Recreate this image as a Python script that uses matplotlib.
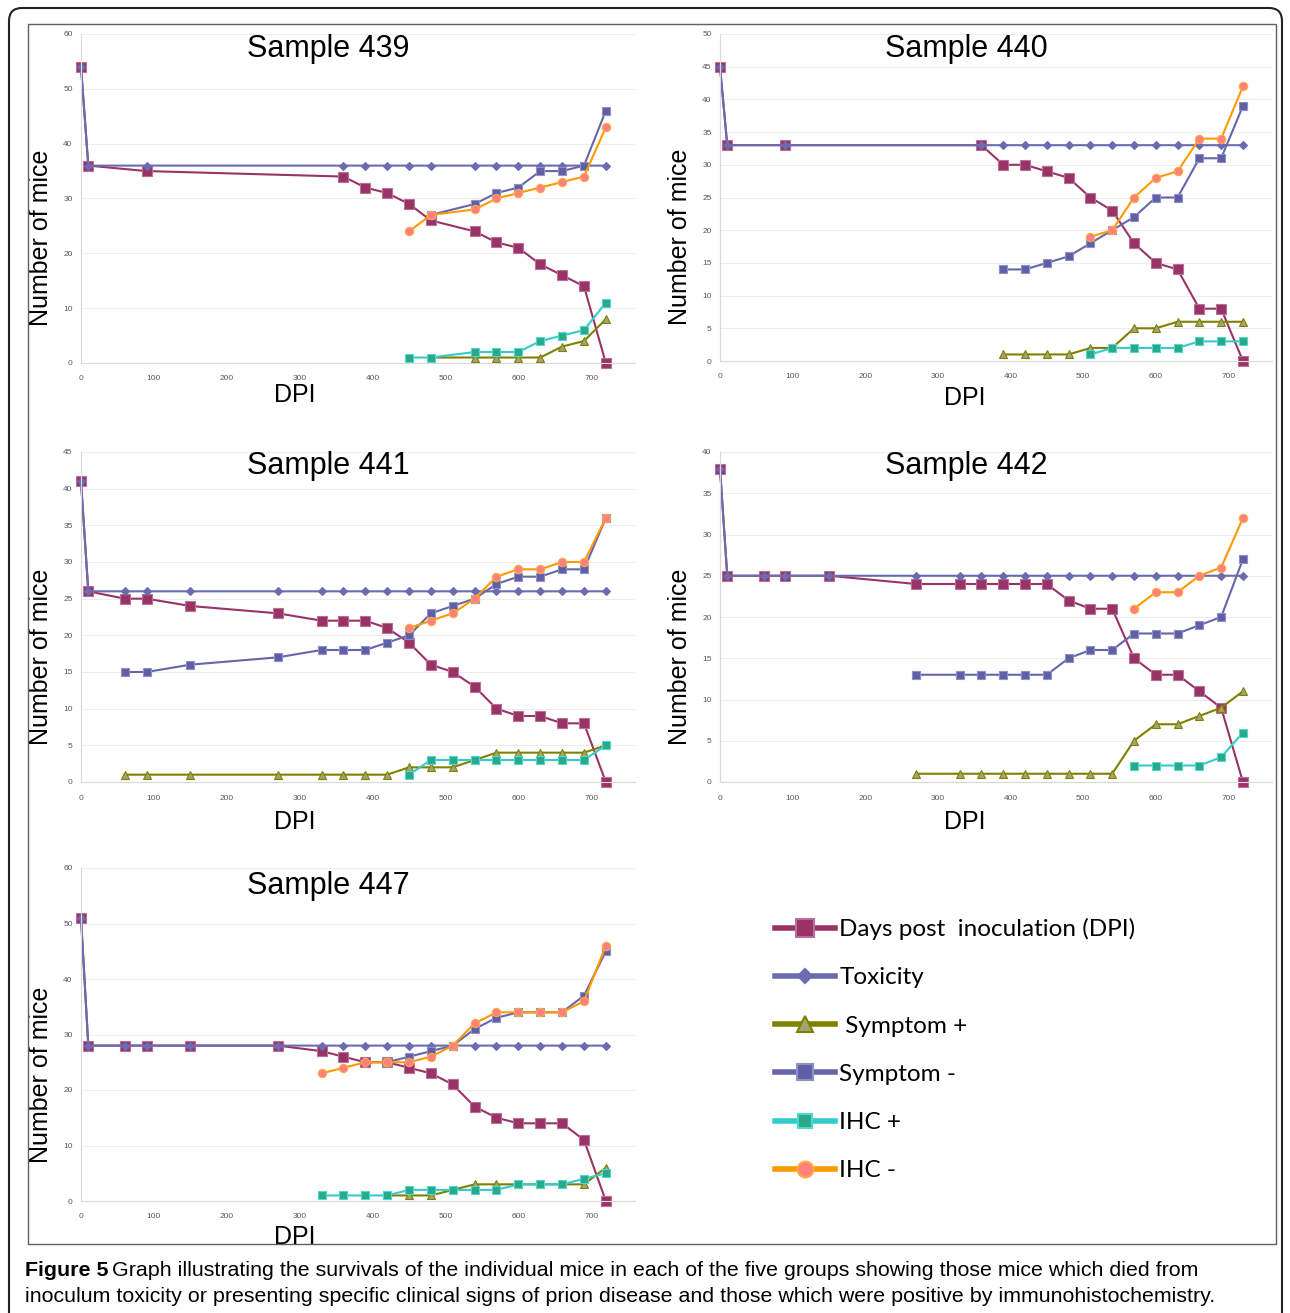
import numpy as np
import matplotlib
matplotlib.use('Agg')
import matplotlib.pyplot as plt
from matplotlib import font_manager as fm
from matplotlib.lines import Line2D
from matplotlib.patches import Rectangle, FancyBboxPatch

N = None
W, H = 1290, 1313

# day grid shared by all samples
days = [0, 10, 60, 90, 150, 270, 330, 360, 390, 420, 450, 480, 510, 540, 570, 600, 630, 660, 690, 720]

samples = ['439', '440', '441', '442', '447']
ymax = [60, 50, 45, 40, 60]
ystep = [10, 5, 5, 5, 10]

# Sample 439
dpi_439 = [54, 36, N, 35, N, N, N, 34, 32, 31, 29, 26, N, 24, 22, 21, 18, 16, 14, 0]
tox_439 = [54, 36, N, 36, N, N, N, 36, 36, 36, 36, 36, N, 36, 36, 36, 36, 36, 36, 36]
sp_439 = [N, N, N, N, N, N, N, N, N, N, N, 1, N, 1, 1, 1, 1, 3, 4, 8]
sm_439 = [N, N, N, N, N, N, N, N, N, N, N, 27, N, 29, 31, 32, 35, 35, 36, 46]
ip_439 = [N, N, N, N, N, N, N, N, N, N, 1, 1, N, 2, 2, 2, 4, 5, 6, 11]
im_439 = [N, N, N, N, N, N, N, N, N, N, 24, 27, N, 28, 30, 31, 32, 33, 34, 43]

# Sample 440
dpi_440 = [45, 33, N, 33, N, N, N, 33, 30, 30, 29, 28, 25, 23, 18, 15, 14, 8, 8, 0]
tox_440 = [45, 33, N, 33, N, N, N, 33, 33, 33, 33, 33, 33, 33, 33, 33, 33, 33, 33, 33]
sp_440 = [N] * 8 + [1, 1, 1, 1, 2, 2, 5, 5, 6, 6, 6, 6]
sm_440 = [N] * 8 + [14, 14, 15, 16, 18, 20, 22, 25, 25, 31, 31, 39]
ip_440 = [N] * 12 + [1, 2, 2, 2, 2, 3, 3, 3]
im_440 = [N] * 12 + [19, 20, 25, 28, 29, 34, 34, 42]

# Sample 441
dpi_441 = [41, 26, 25, 25, 24, 23, 22, 22, 22, 21, 19, 16, 15, 13, 10, 9, 9, 8, 8, 0]
tox_441 = [41] + [26] * 19
sp_441 = [N, N, 1, 1, 1, 1, 1, 1, 1, 1, 2, 2, 2, 3, 4, 4, 4, 4, 4, 5]
sm_441 = [N, N, 15, 15, 16, 17, 18, 18, 18, 19, 20, 23, 24, 25, 27, 28, 28, 29, 29, 36]
ip_441 = [N] * 10 + [1, 3, 3, 3, 3, 3, 3, 3, 3, 5]
im_441 = [N] * 10 + [21, 22, 23, 25, 28, 29, 29, 30, 30, 36]

# Sample 442
dpi_442 = [38, 25, 25, 25, 25, 24, 24, 24, 24, 24, 24, 22, 21, 21, 15, 13, 13, 11, 9, 0]
tox_442 = [38] + [25] * 19
sp_442 = [N] * 5 + [1, 1, 1, 1, 1, 1, 1, 1, 1, 5, 7, 7, 8, 9, 11]
sm_442 = [N] * 5 + [13, 13, 13, 13, 13, 13, 15, 16, 16, 18, 18, 18, 19, 20, 27]
ip_442 = [N] * 14 + [2, 2, 2, 2, 3, 6]
im_442 = [N] * 14 + [21, 23, 23, 25, 26, 32]

# Sample 447
dpi_447 = [51, 28, 28, 28, 28, 28, 27, 26, 25, 25, 24, 23, 21, 17, 15, 14, 14, 14, 11, 0]
tox_447 = [51] + [28] * 19
sp_447 = [N] * 9 + [1, 1, 1, 2, 3, 3, 3, 3, 3, 3, 6]
sm_447 = [N] * 9 + [25, 26, 27, 28, 31, 33, 34, 34, 34, 37, 45]
ip_447 = [N] * 6 + [1, 1, 1, 1, 2, 2, 2, 2, 2, 3, 3, 3, 4, 5]
im_447 = [N] * 6 + [23, 24, 25, 25, 25, 26, 28, 32, 34, 34, 34, 34, 36, 46]

data = {
    '439': [dpi_439, tox_439, sp_439, sm_439, ip_439, im_439],
    '440': [dpi_440, tox_440, sp_440, sm_440, ip_440, im_440],
    '441': [dpi_441, tox_441, sp_441, sm_441, ip_441, im_441],
    '442': [dpi_442, tox_442, sp_442, sm_442, ip_442, im_442],
    '447': [dpi_447, tox_447, sp_447, sm_447, ip_447, im_447],
}

labels = ['Days post  inoculation (DPI)', 'Toxicity', ' Symptom +', 'Symptom -', 'IHC +', 'IHC -']

# line colour, marker, size, face, edge
styles = [
    dict(color='#993366', marker='s', ms=6.5, mfc='#993366', mec='#b8709a'),
    dict(color='#6b6bb0', marker='D', ms=4, mfc='#6b6bb0', mec='#6b6bb0'),
    dict(color='#808000', marker='^', ms=6, mfc='#a3a373', mec='#808000'),
    dict(color='#6666a8', marker='s', ms=6, mfc='#5f5fa6', mec='#9090c8'),
    dict(color='#33cccc', marker='s', ms=5.5, mfc='#2aa88a', mec='#50d8d0'),
    dict(color='#ff9900', marker='o', ms=6, mfc='#ff8080', mec='#ffaa40'),
]

# axes boxes in pixels: left, top, right, bottom
boxes = {
    '439': (81, 34, 635, 363),
    '440': (720, 34, 1272, 361),
    '441': (81, 452, 635, 782),
    '442': (720, 452, 1272, 782),
    '447': (81, 868, 635, 1201),
}
title_y = {'439': 0.954, '440': 0.954, '441': 0.958, '442': 0.958, '447': 0.946}
dpi_lab = {'439': (0.386, -0.097), '440': (0.444, -0.113), '441': (0.386, -0.121),
           '442': (0.444, -0.121), '447': (0.386, -0.108)}

avail = {f.name for f in fm.fontManager.ttflist}
cap_font = 'Liberation Sans Narrow' if 'Liberation Sans Narrow' in avail else 'Liberation Sans'
plt.rcParams['font.family'] = ['Liberation Sans', 'DejaVu Sans']

fig = plt.figure(figsize=(W / 100, H / 100), dpi=100)
fig.patch.set_facecolor('white')

x_days = np.array(days, dtype=float)

for k, s in enumerate(samples):
    l, t, r, b = boxes[s]
    ax = fig.add_axes([l / W, (H - b) / H, (r - l) / W, (b - t) / H])
    for series, st in zip(data[s], styles):
        y = np.array([np.nan if v is None else v for v in series], dtype=float)
        m = ~np.isnan(y)
        ax.plot(x_days[m], y[m], color=st['color'], lw=1.5, marker=st['marker'],
                ms=st['ms'], mfc=st['mfc'], mec=st['mec'], mew=0.8, clip_on=False)
    ax.set_xlim(0, 760)
    ax.set_ylim(0, ymax[k])
    ax.set_xticks(range(0, 701, 100))
    ax.set_yticks(range(0, ymax[k] + 1, ystep[k]))
    ax.tick_params(length=0, labelsize=6, labelcolor='#595959', pad=6)
    ax.tick_params(axis='x', pad=9)
    ax.grid(axis='y', color='#ededed', lw=0.8)
    ax.set_axisbelow(True)
    for sp in ['top', 'right']:
        ax.spines[sp].set_visible(False)
    ax.spines['left'].set_color('#d9d9d9')
    ax.spines['bottom'].set_color('#d9d9d9')
    ax.text(0.446, title_y[s], 'Sample ' + s, transform=ax.transAxes, ha='center',
            va='center', fontsize=22)
    ax.text(-0.072, 0.38, 'Number of mice', transform=ax.transAxes, rotation=90,
            ha='center', va='center', fontsize=18)
    ax.text(dpi_lab[s][0], dpi_lab[s][1], 'DPI', transform=ax.transAxes, ha='center',
            va='center', fontsize=18)

# legend
handles = [Line2D([], [], color=st['color'], lw=4, marker=st['marker'],
                  ms=st['ms'] * 1.9, mfc=st['mfc'], mec=st['mec'], mew=1.5) for st in styles]
fig.legend(handles, labels, loc='upper left', bbox_to_anchor=(775 / W, (H - 918) / H),
           frameon=False, prop={'family': 'Lato', 'size': 17.5}, handlelength=2.45,
           handletextpad=0.2, labelspacing=1.12, borderpad=0, borderaxespad=0)

# cover below the chart frame, frames
fig.patches.append(Rectangle((0, 0), 1, (H - 1244) / H, transform=fig.transFigure,
                             fc='white', ec='none', zorder=5))
fig.patches.append(Rectangle((28 / W, (H - 1244) / H), 1248 / W, 1220 / H,
                             transform=fig.transFigure, fc='none', ec='#606060',
                             lw=1.0, zorder=6))
fig.patches.append(FancyBboxPatch((9 / W, -0.05), 1273 / W, (H - 8) / H + 0.05,
                                  boxstyle='round,pad=0,rounding_size=0.01',
                                  transform=fig.transFigure, fc='none', ec='#222222',
                                  lw=1.5, zorder=7))

# caption
cap_size = 15.4
t1 = fig.text(25 / W, (H - 1271) / H, 'Figure 5', fontsize=cap_size, fontweight='bold',
              family=cap_font, va='center', ha='left', zorder=8)
fig.canvas.draw()
bb = t1.get_window_extent(fig.canvas.get_renderer())
fig.text(bb.x1 / W + 4 / W, (H - 1271) / H,
         'Graph illustrating the survivals of the individual mice in each of the five groups '
         'showing those mice which died from', fontsize=cap_size, family=cap_font,
         va='center', ha='left', zorder=8)
fig.text(25 / W, (H - 1297) / H,
         'inoculum toxicity or presenting specific clinical signs of prion disease and those '
         'which were positive by immunohistochemistry.', fontsize=cap_size, family=cap_font,
         va='center', ha='left', zorder=8)

fig.savefig('out.png', dpi=100)
